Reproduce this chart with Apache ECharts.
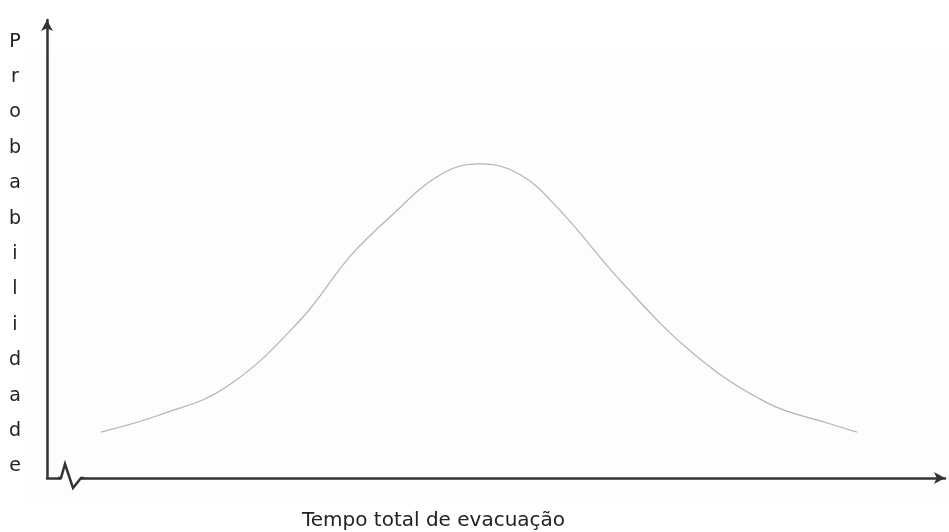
<!DOCTYPE html>
<html>
<head>
<meta charset="utf-8">
<script src="https://cdn.jsdelivr.net/npm/echarts@6/dist/echarts.min.js"></script>
<style>
  html, body { margin: 0; padding: 0; background: #fff; }
  #chart { width: 949px; height: 532px; }
</style>
</head>
<body>
<div id="chart"></div>
<script>
  // curve (axis units 0..100 on both axes)
  var tempo = [6.0, 12.6, 20.0, 28.2, 33.7, 38.2, 43.8, 48.2, 52.7, 57.1, 63.8, 71.9, 80.2, 86.9, 90.2];
  var probabilidade = [10.0, 13.8, 19.9, 34.5, 48.3, 57.0, 66.2, 68.6, 66.2, 58.5, 43.2, 27.3, 16.4, 12.0, 10.0];
  var xTitle = 'Tempo total de evacuação';
  var yTitle = 'Probabilidade';

  var chart = echarts.init(document.getElementById('chart'));
  var axisLine = {
    show: true,
    symbol: ['none', 'arrow'],
    symbolSize: [9, 11],
    lineStyle: { color: '#333', width: 2.5 }
  };

  chart.setOption({
    animation: false,
    grid: { left: 47, right: 4, top: 20, bottom: 54, outerBoundsMode: 'none' },
    graphic: [
      { type: 'rect', z: -10, shape: { x: 30, y: 55, width: 919, height: 442 }, style: { fill: '#fdfdfd' } },
      // axis break on the x axis
      { type: 'rect', z: 100, shape: { x: 61, y: 474, width: 19, height: 8 }, style: { fill: '#fff' } },
      {
        type: 'polyline', z: 101,
        shape: { points: [[58, 478], [61, 478], [65, 464], [73, 488], [81, 478], [84, 478]] },
        style: { stroke: '#333', lineWidth: 2.5, fill: null }
      },
      // y title, one letter per line
      {
        type: 'text', z: 100,
        style: {
          text: yTitle.split('').join('\n'), x: 15, y: 24,
          align: 'center', verticalAlign: 'top', lineHeight: 35.4,
          font: '19px "DejaVu Sans"', fill: '#222'
        }
      }
    ],
    xAxis: {
      type: 'value', min: 0, max: 100,
      name: xTitle, nameLocation: 'middle', nameGap: 33,
      nameTextStyle: { fontFamily: 'DejaVu Sans', fontSize: 20, color: '#222', padding: [0, 125, 0, 0] },
      axisLine: axisLine,
      axisTick: { show: false }, axisLabel: { show: false }, splitLine: { show: false }
    },
    yAxis: {
      type: 'value', min: 0, max: 100,
      axisLine: axisLine,
      axisTick: { show: false }, axisLabel: { show: false }, splitLine: { show: false }
    },
    series: [{
      type: 'line',
      smooth: 0.4,
      symbol: 'none',
      lineStyle: { color: '#b3b3b3', width: 1.2 },
      data: tempo.map(function (t, i) { return [t, probabilidade[i]]; })
    }]
  });
</script>
</body>
</html>
